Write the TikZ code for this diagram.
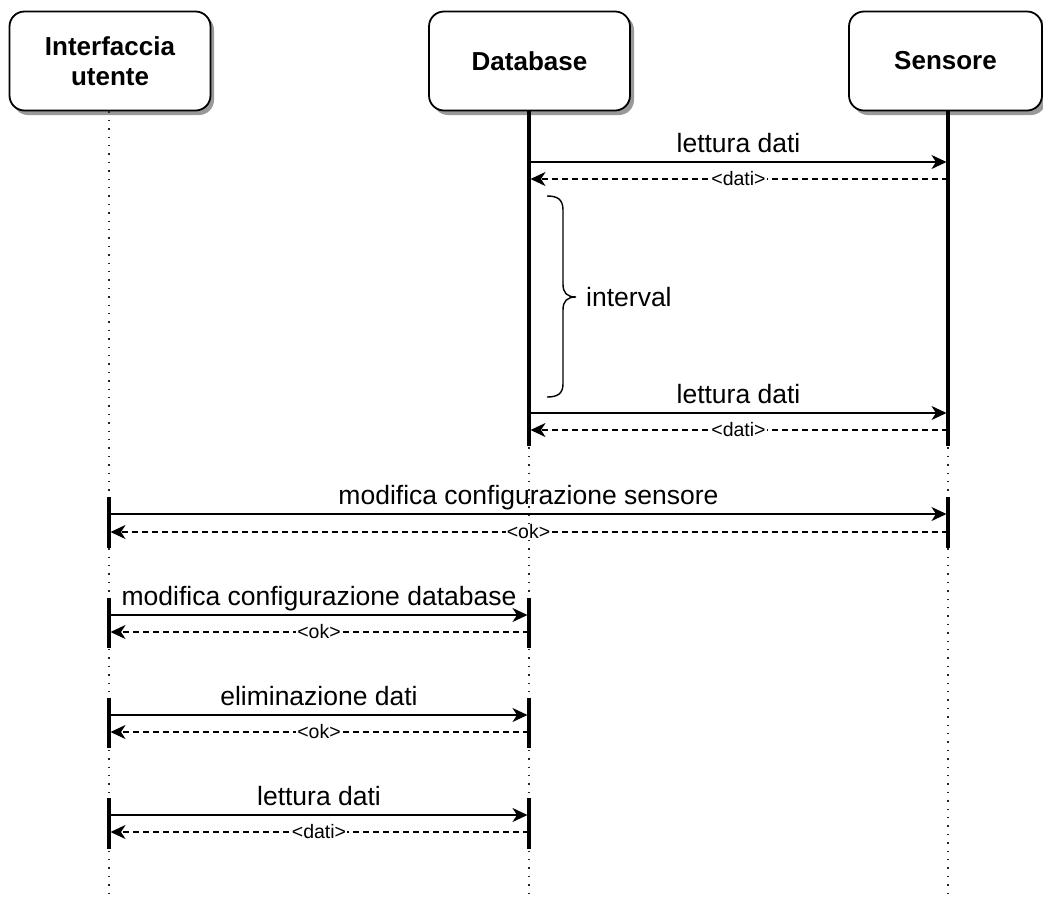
\documentclass[tikz,border=0pt]{standalone}
\usepackage{fontspec}
\setmainfont{Liberation Sans}
\usetikzlibrary{arrows.meta}
\tikzset{
  x=1pt, y=-1pt,
  actor/.style={draw=black, line width=1.8pt, rounded corners=15pt, fill=white,
    minimum width=201pt, minimum height=99pt, align=center,
    font=\fontsize{26}{30}\selectfont\bfseries},
  actorshadow/.style={fill=black!40, rounded corners=15pt},
  lifeline/.style={line width=1.4pt, dash pattern=on 1.4pt off 7pt, black!85},
  activebar/.style={line width=3.4pt, line cap=butt},
  callmsg/.style={line width=1.8pt, -{Stealth[length=15pt,width=14pt,inset=4.5pt]}, shorten >=1.5pt},
  replymsg/.style={line width=1.6pt, dash pattern=on 6pt off 4pt, -{Stealth[length=15pt,width=14pt,inset=4.5pt]}, shorten >=1.5pt},
  calllabel/.style={midway, anchor=base, yshift=9.5pt, inner sep=0pt, font=\fontsize{26.5}{30}\selectfont},
  replylabel/.style={midway, fill=white, inner sep=1pt, font=\fontsize{19.5}{23}\selectfont},
}
\begin{document}
\begin{tikzpicture}
\useasboundingbox (0,0) rectangle (1043,898);

% participant boxes with drop shadows
\fill[actorshadow] (13,15) rectangle (214,115);
\fill[actorshadow] (433,15) rectangle (634,115);
\fill[actorshadow] (853,15) rectangle (1046,115);
\node[actor] (ui) at (110,61) {Interfaccia\\utente};
\node[actor] (db) at (529.5,61) {Database};
\node[actor, minimum width=193pt] (sen) at (945.5,61) {Sensore};

% lifelines
\coordinate (uiend) at (109,898);
\coordinate (dbend) at (529,898);
\coordinate (senend) at (948,898);
\draw[lifeline] (ui.south -| uiend) -- (uiend);
\draw[lifeline] (db.south -| dbend) -- (dbend);
\draw[lifeline] (sen.south -| senend) -- (senend);

% activation bars
\draw[activebar] (db.south -| dbend) -- (529,446);
\draw[activebar] (sen.south -| senend) -- (948,446);
\draw[activebar] (109,497) -- (109,548);
\draw[activebar] (948,497) -- (948,548);
\draw[activebar] (109,598) -- (109,648);
\draw[activebar] (529,598) -- (529,648);
\draw[activebar] (109,698) -- (109,748);
\draw[activebar] (529,698) -- (529,748);
\draw[activebar] (109,798) -- (109,849);
\draw[activebar] (529,798) -- (529,849);

% message end points
\coordinate (db1) at (529,162);  \coordinate (sen1) at (948,162);
\coordinate (db1r) at (529,179); \coordinate (sen1r) at (948,179);
\coordinate (db2) at (529,413);  \coordinate (sen2) at (948,413);
\coordinate (db2r) at (529,430); \coordinate (sen2r) at (948,430);
\coordinate (ui3) at (109,514);  \coordinate (sen3) at (948,514);
\coordinate (ui3r) at (109,532); \coordinate (sen3r) at (948,532);
\coordinate (ui4) at (109,615);  \coordinate (db4) at (529,615);
\coordinate (ui4r) at (109,632); \coordinate (db4r) at (529,632);
\coordinate (ui5) at (109,715);  \coordinate (db5) at (529,715);
\coordinate (ui5r) at (109,732); \coordinate (db5r) at (529,732);
\coordinate (ui6) at (109,815);  \coordinate (db6) at (529,815);
\coordinate (ui6r) at (109,832); \coordinate (db6r) at (529,832);

% messages
\draw[callmsg] (db1) -- node[calllabel] {lettura dati} (sen1);
\draw[replymsg] (sen1r) -- node[replylabel] {<dati>} (db1r);
\draw[callmsg] (db2) -- node[calllabel] {lettura dati} (sen2);
\draw[replymsg] (sen2r) -- node[replylabel] {<dati>} (db2r);
\draw[callmsg] (ui3) -- node[calllabel] {modifica configurazione sensore} (sen3);
\draw[replymsg] (sen3r) -- node[replylabel] {<ok>} (ui3r);
\draw[callmsg] (ui4) -- node[calllabel] {modifica configurazione database} (db4);
\draw[replymsg] (db4r) -- node[replylabel] {<ok>} (ui4r);
\draw[callmsg] (ui5) -- node[calllabel] {eliminazione dati} (db5);
\draw[replymsg] (db5r) -- node[replylabel] {<ok>} (ui5r);
\draw[callmsg] (ui6) -- node[calllabel] {lettura dati} (db6);
\draw[replymsg] (db6r) -- node[replylabel] {<dati>} (ui6r);

% interval brace
\draw[line width=1.4pt] (547,196) .. controls (557,196) and (563,199) .. (563,210)
  -- (563,284) .. controls (563,293) and (567,297) .. (576,297)
  .. controls (567,297) and (563,301) .. (563,310)
  -- (563,384) .. controls (563,394) and (557,397) .. (547,397);
\node[anchor=west, inner sep=0pt, font=\fontsize{26.5}{30}\selectfont] (iv) at (586,297) {interval};
\end{tikzpicture}
\end{document}
